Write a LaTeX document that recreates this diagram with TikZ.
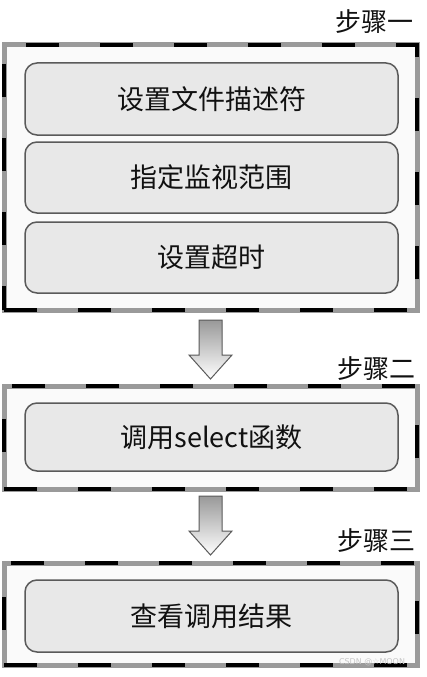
\documentclass[tikz,border=0pt]{standalone}
\usepackage{fontspec}
\newfontfamily\cjk{Noto Sans CJK SC}
\newfontfamily\wmfont{DejaVu Sans}
\definecolor{bordergray}{HTML}{9A9A9A}
\definecolor{innerfill}{HTML}{E8E8E8}
\definecolor{innerline}{HTML}{5A5A5A}
\definecolor{textdark}{HTML}{111111}
\begin{document}
\begin{tikzpicture}[x=1pt,y=-1pt,
  stepframe/.style={draw=bordergray, line width=5pt, fill=white!98!black,
    minimum width=413pt, inner sep=0pt,
    postaction={draw=black, line width=3.6pt, dash pattern=on 33pt off 41pt}},
  stepitem/.style={draw=innerline, line width=1.5pt, fill=innerfill,
    rounded corners=12pt, minimum width=373pt, inner sep=0pt,
    font=\cjk\fontsize{27}{31}\selectfont, text=textdark},
  steplabel/.style={anchor=east, inner sep=0pt,
    font=\cjk\fontsize{26}{30}\selectfont, text=textdark},
  blockarrow/.style={draw=innerline, line width=1pt,
    top color=gray!80, bottom color=white},
  downarr/.pic={
    \path[blockarrow] (-11.5,0) -- (11.5,0) -- (11.5,35) -- (21.5,35)
      -- (0,59) -- (-21.5,35) -- (-11.5,35) -- cycle;
  }]
\useasboundingbox (0,0) rectangle (426,677);
\fill[white] (0,0) rectangle (426,677);

% step 1
\node[stepframe, minimum height=265pt] (outer1) at (210.5,177.5) {};
\node[steplabel] (lab1) at (414,22) {步骤一};
\node[stepitem, minimum height=72pt] (s1a) at (211.5,99) {设置文件描述符};
\node[stepitem, minimum height=71pt] (s1b) at (211.5,177.5) {指定监视范围};
\node[stepitem, minimum height=71pt] (s1c) at (211.5,257.5) {设置超时};

% arrow 1
\pic at (210.5,320) {downarr};

% step 2
\node[stepframe, minimum height=103pt] (outer2) at (210.5,437.5) {};
\node[steplabel] (lab2) at (416,369) {步骤二};
\node[stepitem, minimum height=68pt] (s2) at (211.5,437) {调用select函数};

% arrow 2
\pic at (210.5,496) {downarr};

% step 3
\node[stepframe, minimum height=102pt] (outer3) at (210.5,614) {};
\node[steplabel] (lab3) at (416,541) {步骤三};
\node[stepitem, minimum height=72pt] (s3) at (211.5,616) {查看调用结果};

% watermark
\node[font=\wmfont\fontsize{8}{9}\selectfont, text=gray!45, inner sep=0pt] (wm) at (372,662) {CSDN @☆MOON};
\end{tikzpicture}
\end{document}
